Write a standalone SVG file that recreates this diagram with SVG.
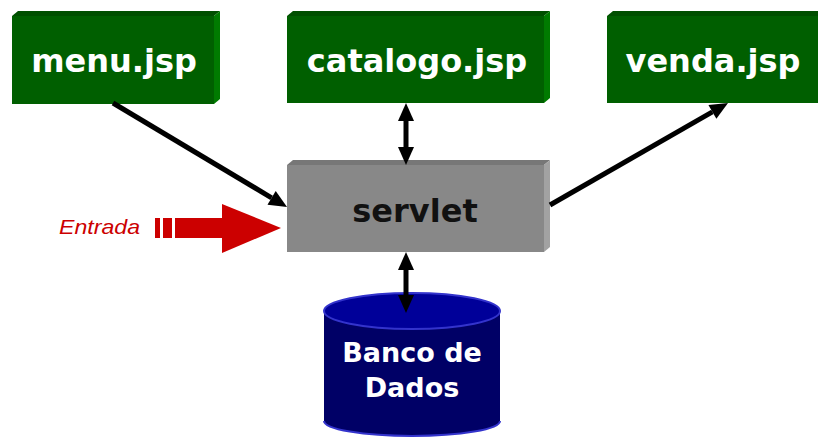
<svg xmlns="http://www.w3.org/2000/svg" width="818" height="438" viewBox="0 0 818 438">
<style>
.front{fill:#005f00}
.top{fill:#004f00}
.side{fill:#007a00}
.gfront{fill:#888888}
.gtop{fill:#777777}
.gside{fill:#a2a2a2}
.lbl{font-family:"DejaVu Sans",Verdana,sans-serif;font-weight:bold;font-size:32px;text-anchor:middle}
.conn{stroke:#000;stroke-width:5;fill:none}
</style>
<defs>
<marker id="ah" markerUnits="userSpaceOnUse" markerWidth="20" markerHeight="18" refX="0" refY="8" orient="auto-start-reverse" overflow="visible">
<path d="M0,0 L18,8 L0,16 z" fill="#000"/>
</marker>
</defs>
<rect width="818" height="438" fill="#ffffff"/>

<g id="menu">
<polygon class="top" points="12,16 18,11 220,11 214,16"/>
<polygon class="side" points="214,16 220,11 220,99 214,104"/>
<rect class="front" x="12" y="16" width="202" height="88"/>
<text class="lbl" x="114" y="72" fill="#ffffff">menu.jsp</text>
</g>

<g id="catalogo">
<polygon class="top" points="287,16 293,11 550,11 544,16"/>
<polygon class="side" points="544,16 550,11 550,98 544,103"/>
<rect class="front" x="287" y="16" width="257" height="87"/>
<text class="lbl" x="417" y="72" fill="#ffffff">catalogo.jsp</text>
</g>

<g id="venda">
<polygon class="top" points="607,16 613,11 818,11 818,16"/>
<rect class="front" x="607" y="16" width="211" height="87"/>
<text class="lbl" x="713" y="72" fill="#ffffff">venda.jsp</text>
</g>

<g id="servlet">
<polygon class="gtop" points="287,165 293,160 550,160 544,165"/>
<polygon class="gside" points="544,165 550,160 550,247 544,252"/>
<rect class="gfront" x="287" y="165" width="257" height="87"/>
<text class="lbl" x="415" y="222" fill="#111111">servlet</text>
</g>

<g id="banco">
<path d="M324,311 L324,421 A88,15 0 0 0 500,421 L500,311 Z" fill="#000066"/>
<path d="M324,421 A88,15 0 0 0 500,421" fill="none" stroke="#3333cc" stroke-width="2"/>
<ellipse cx="412" cy="311" rx="88" ry="18" fill="#000099" stroke="#3333cc" stroke-width="2"/>
<text x="412" y="362" font-family="DejaVu Sans, Verdana, sans-serif" font-weight="bold" font-size="27" fill="#ffffff" text-anchor="middle">Banco de</text>
<text x="412" y="397" font-family="DejaVu Sans, Verdana, sans-serif" font-weight="bold" font-size="27" fill="#ffffff" text-anchor="middle">Dados</text>
</g>

<g id="entrada">
<text x="59" y="234" font-family="Liberation Sans, Arial, sans-serif" font-style="italic" font-size="21" fill="#cc0000" textLength="81" lengthAdjust="spacingAndGlyphs">Entrada</text>
<rect x="155" y="218" width="5" height="20" fill="#cc0000"/>
<rect x="163" y="218" width="9" height="20" fill="#cc0000"/>
<rect x="175" y="218" width="48" height="20" fill="#cc0000"/>
<polygon points="222,204 281,228 222,253" fill="#cc0000"/>
</g>

<g id="connectors">
<line class="conn" x1="113" y1="103" x2="271.6" y2="197.8" marker-end="url(#ah)"/>
<line class="conn" x1="550" y1="205" x2="712.4" y2="111.9" marker-end="url(#ah)"/>
<line class="conn" x1="406" y1="121" x2="406" y2="147" marker-start="url(#ah)" marker-end="url(#ah)"/>
<line class="conn" x1="406" y1="270" x2="406" y2="295" marker-start="url(#ah)" marker-end="url(#ah)"/>
</g>
</svg>
